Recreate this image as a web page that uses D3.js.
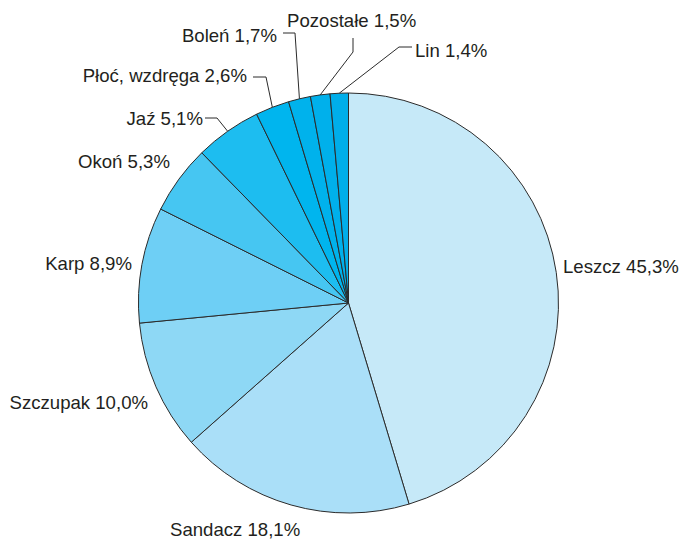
<!DOCTYPE html>
<html><head><meta charset="utf-8">
<script src="https://cdn.jsdelivr.net/npm/d3@7"></script>
<style>body{margin:0;background:#fff}svg{display:block}</style>
</head><body>
<svg id="c" width="684" height="540"></svg>
<script>
const categories = ["Leszcz","Sandacz","Szczupak","Karp","Okoń","Jaź","Płoć, wzdręga","Boleń","Pozostałe","Lin"];
const values = [45.3,18.1,10.0,8.9,5.3,5.1,2.6,1.7,1.5,1.4];
const valueLabels = ["45,3%","18,1%","10,0%","8,9%","5,3%","5,1%","2,6%","1,7%","1,5%","1,4%"];
const colors = ["#c6e9f8","#aadff8","#8ed8f5","#6ecff5","#46c6f2","#1dbdf0","#00b5ee","#00b2ec","#00b0eb","#00aeea"];

// label layout: text position/anchor, leader elbow points (null = no leader)
const labelLayout = [
  {x:563,y:273,a:"start",elbow:null},
  {x:170,y:536,a:"start",elbow:null},
  {x:148,y:409,a:"end",elbow:null},
  {x:132,y:270,a:"end",elbow:null},
  {x:170,y:168,a:"end",elbow:null},
  {x:203,y:125,a:"end",elbow:[[205,118],[217,118]]},
  {x:247,y:82,a:"end",elbow:[[253,77],[266,77]]},
  {x:277,y:42,a:"end",elbow:[[283,33],[295,33]]},
  {x:287,y:27,a:"start",elbow:[[353,38],[353,52]]},
  {x:415,y:57,a:"start",elbow:[[412,47],[399,47]]}
];

const cx = 348.5, cy = 303, R = 210;
const svg = d3.select("#c");
const g = svg.append("g").attr("transform",`translate(${cx},${cy})`);
const data = categories.map((c,i)=>({name:c,value:values[i],label:valueLabels[i],color:colors[i],lay:labelLayout[i]}));
const pie = d3.pie().sort(null).value(d=>d.value);
const arc = d3.arc().innerRadius(0).outerRadius(R);
const arcs = pie(data);

g.selectAll("path.slice").data(arcs).join("path")
  .attr("class","slice")
  .attr("d",arc)
  .attr("fill",d=>d.data.color)
  .attr("stroke","#2b2b2b")
  .attr("stroke-width",1)
  .attr("stroke-linejoin","round");

// leaders
arcs.forEach(d=>{
  const L = d.data.lay;
  if(!L.elbow) return;
  const mid = (d.startAngle+d.endAngle)/2;
  const px = cx + R*Math.sin(mid), py = cy - R*Math.cos(mid);
  const pts = L.elbow.concat([[px,py]]);
  svg.append("path")
    .attr("d", d3.line()(pts))
    .attr("fill","none").attr("stroke","#2b2b2b").attr("stroke-width",1);
});

svg.selectAll("text.lbl").data(arcs).join("text")
  .attr("class","lbl")
  .attr("x",d=>d.data.lay.x).attr("y",d=>d.data.lay.y)
  .attr("text-anchor",d=>d.data.lay.a)
  .attr("font-family","'Liberation Sans', Arial, sans-serif")
  .attr("font-size","18.6px")
  .attr("fill","#231f20")
  .text(d=>d.data.name+" "+d.data.label);
</script>
</body></html>
